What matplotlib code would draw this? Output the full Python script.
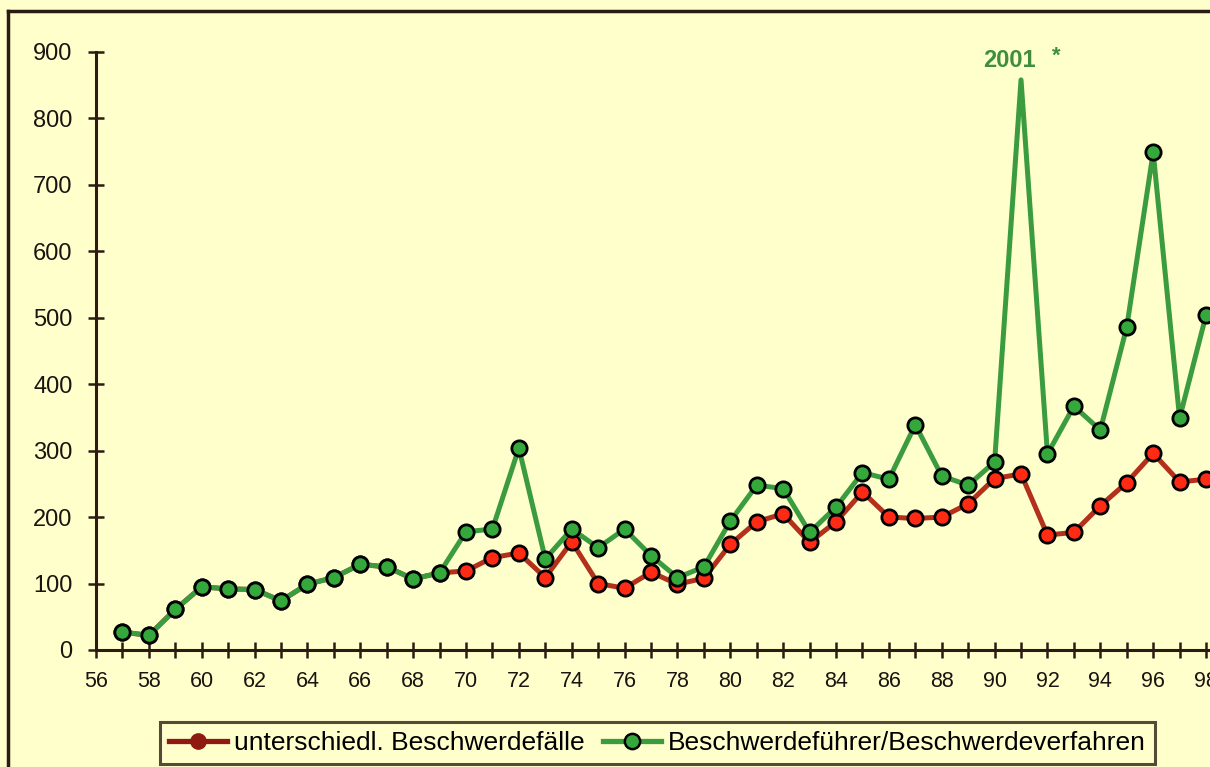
import matplotlib
matplotlib.use("Agg")
import matplotlib.pyplot as plt
from matplotlib.lines import Line2D

plt.rcParams['font.family'] = ['Liberation Sans', 'DejaVu Sans']

years = list(range(57, 99))
beschwerdefaelle = [27, 22, 61, 95, 92, 91, 74, 99, 109, 129, 125, 107, 116,
                    119, 139, 146, 109, 163, 100, 93, 117, 99, 108,
                    159, 193, 205, 162, 193, 238, 200, 198, 200, 220,
                    258, 265, 173, 177, 217, 252, 296, 253, 257]
beschwerdefuehrer = [27, 22, 61, 95, 92, 91, 74, 99, 109, 129, 125, 107, 116,
                     178, 182, 304, 137, 182, 154, 182, 142, 109, 125,
                     194, 248, 243, 177, 215, 267, 257, 339, 262, 248,
                     283, 2001, 295, 367, 331, 486, 749, 349, 504]
label_red = "unterschiedl. Beschwerdefälle"
label_green = "Beschwerdeführer/Beschwerdeverfahren"
x_major = list(range(56, 99, 2))
x_minor = list(range(57, 99, 2))
y_ticks = list(range(0, 901, 100))
peak_label = "2001"
display_cap = 858  # off-scale value is drawn as a truncated spike

W, H = 1210, 767
BG = '#FFFFCC'
DARK = '#2B1B12'
RED_LINE = '#B3301C'
RED_MK = '#FF2A14'
GREEN_LINE = '#3B9B3F'
GREEN_MK = '#35A83C'
GREEN_TXT = '#3E8E3E'

fig = plt.figure(figsize=(W / 100, H / 100), dpi=100, facecolor=BG)
ax = fig.add_axes([96 / W, (H - 650) / H, (W - 96) / W, (650 - 52) / H])
ax.set_facecolor(BG)

green_shown = [min(v, display_cap) for v in beschwerdefuehrer]
green_marks = [i for i, v in enumerate(beschwerdefuehrer) if v <= display_cap]

ax.plot(years, beschwerdefaelle, color=RED_LINE, lw=3.6, marker='o', ms=11,
        mfc=RED_MK, mec='black', mew=2, zorder=3)
ax.plot(years, green_shown, color=GREEN_LINE, lw=3.6, marker='o', ms=11,
        mfc=GREEN_MK, mec='black', mew=2, zorder=4, markevery=green_marks)

ax.set_xlim(56, 98.15)
ax.set_ylim(0, 900)
ax.set_xticks(x_major)
ax.set_xticks(x_minor, minor=True)
ax.set_yticks(y_ticks)
for s in ['top', 'right']:
    ax.spines[s].set_visible(False)
for s in ['left', 'bottom']:
    ax.spines[s].set_color(DARK)
    ax.spines[s].set_linewidth(2.2)
ax.tick_params(axis='both', which='both', direction='inout', length=12,
               width=1.8, color=DARK, labelcolor='#1A1410')
ax.tick_params(axis='y', labelsize=17, pad=11)
ax.tick_params(axis='x', labelsize=15.5, pad=9)

ax.text(90.55, 887, peak_label, color=GREEN_TXT, fontsize=17, fontweight='bold',
        ha='center', va='center')
ax.text(92.35, 893, '*', color=GREEN_TXT, fontsize=16, fontweight='bold',
        ha='center', va='center')

# outer frame
fig.add_artist(Line2D([8 / W, 1.0], [1 - 11 / H, 1 - 11 / H], color=DARK, lw=2.5,
                      transform=fig.transFigure))
fig.add_artist(Line2D([8 / W, 8 / W], [0, 1 - 11 / H], color=DARK, lw=2.5,
                      transform=fig.transFigure))

handles = [
    Line2D([], [], color='#8E1A12', lw=3.8, marker='o', ms=11, mfc='#8E1A12', mec='#8E1A12'),
    Line2D([], [], color=GREEN_LINE, lw=3.8, marker='o', ms=11, mfc=GREEN_MK, mec='black', mew=1.8),
]
leg = fig.legend(handles, [label_red, label_green], loc='upper left',
                 bbox_to_anchor=(160 / W, 1 - 722 / H), ncol=2, fontsize=19,
                 frameon=True, fancybox=False, edgecolor=DARK, facecolor=BG,
                 handlelength=2.2, handletextpad=0.25, columnspacing=0.7,
                 borderpad=0.35, borderaxespad=0)
leg.get_frame().set_linewidth(2.2)

fig.savefig('out.png', dpi=100, facecolor=BG)
